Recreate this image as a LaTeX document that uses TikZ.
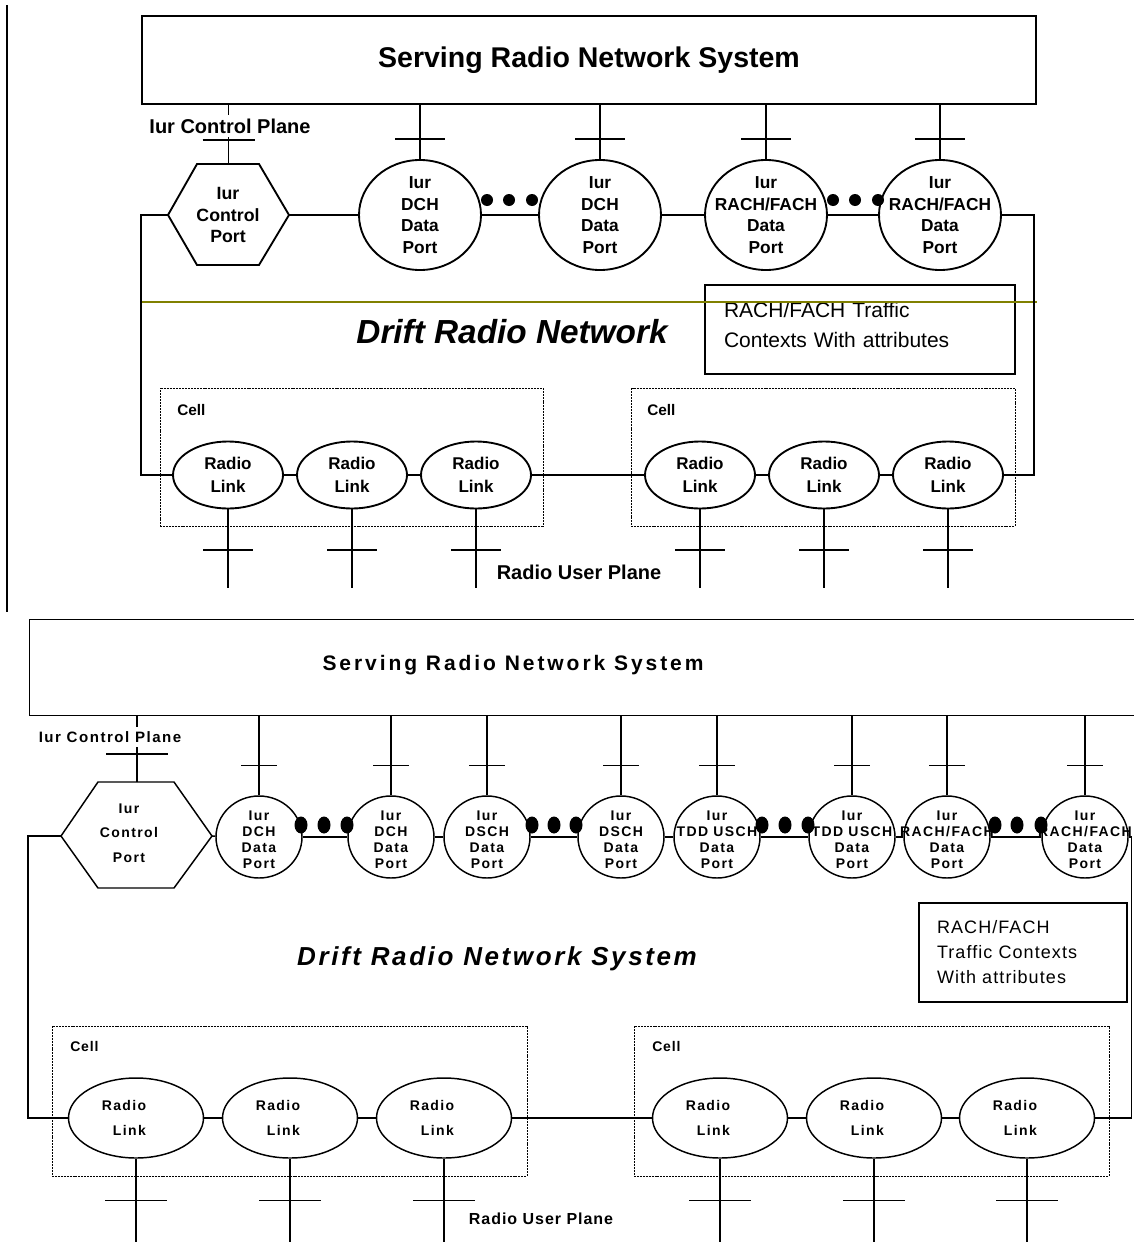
\documentclass[tikz,border=0pt]{standalone}
\usepackage{fontspec}
\setmainfont{Liberation Sans}
\newfontfamily\trackedfont[LetterSpace=10]{Liberation Sans}
\newfontfamily\trackedwide[LetterSpace=14]{Liberation Sans}
\newfontfamily\trackedlight[LetterSpace=6]{Liberation Sans}
\usetikzlibrary{shapes.geometric,calc}
\definecolor{olivegreen}{RGB}{128,128,0}

\tikzset{
  lineT/.style={line width=1.4pt},
  lineB/.style={line width=1.1pt},
  portT/.style={draw, lineT, ellipse, minimum width=91.5pt, minimum height=82.5pt, inner sep=0pt},
  portB/.style={draw, lineB, ellipse, minimum width=64.5pt, minimum height=61.5pt, inner sep=0pt},
  linkT/.style={draw, lineT, ellipse, minimum width=82.5pt, minimum height=50.25pt, inner sep=0pt},
  linkB/.style={draw, lineB, ellipse, minimum width=101.25pt, minimum height=60pt, inner sep=0pt},
  dotT/.style={circle, fill=black, minimum size=9pt, inner sep=0pt},
  dotB/.style={ellipse, fill=black, minimum width=9.75pt, minimum height=12.75pt, inner sep=0pt},
  cellbox/.style={draw, line width=0.7pt, dash pattern=on 1.5pt off 0.7pt, inner sep=0pt},
  portTxtT/.style={align=center, inner sep=0pt, font=\fontsize{13}{16.3}\selectfont\bfseries},
  hexTxtT/.style={align=center, inner sep=0pt, font=\fontsize{13.3}{16.1}\selectfont\bfseries},
  linkTxtT/.style={align=center, inner sep=0pt, font=\fontsize{12.75}{17.3}\selectfont\bfseries},
  portTxtB/.style={align=center, inner sep=0pt, yshift=-2pt, font=\trackedfont\fontsize{10.5}{12.2}\selectfont\bfseries},
  hexTxtB/.style={align=center, inner sep=0pt, font=\trackedfont\fontsize{10.5}{18.4}\selectfont\bfseries},
  linkTxtB/.style={align=center, inner sep=0pt, xshift=-5pt, font=\trackedfont\fontsize{10.5}{18.75}\selectfont\bfseries},
  planeT/.style={fill=white, inner sep=3pt, font=\fontsize{15}{18}\selectfont\bfseries},
  planeB/.style={fill=white, inner sep=3pt, font=\trackedfont\fontsize{11.3}{14}\selectfont\bfseries},
  cellTxtT/.style={anchor=west, inner sep=0pt, font=\fontsize{11.5}{14}\selectfont\bfseries},
  cellTxtB/.style={anchor=west, inner sep=0pt, font=\trackedlight\fontsize{10.5}{13}\selectfont\bfseries},
}

\begin{document}
\begin{tikzpicture}[x=0.75pt,y=-0.75pt]
\useasboundingbox (0,0) rectangle (1133,1242);

% ---------------- upper figure ----------------
\draw[line width=1.5pt] (7,5) -- (7,612);

\node[draw, lineT, minimum width=670.5pt, minimum height=66pt, inner sep=0pt,
      font=\fontsize{21.4}{25}\selectfont\bfseries] (srns) at (589,60) {Serving Radio Network System};

% control port
\coordinate (hxW) at (168,215);
\coordinate (hxE) at (289,215);
\coordinate (hxN) at (228.5,164);
\draw[lineT] (hxW) -- (197,164) -- (259,164) -- (hxE) -- (259,265) -- (197,265) -- cycle;
\node[hexTxtT] (hxtxt) at (228,215) {Iur\\Control\\Port};
\draw[lineT] (srns.south -| hxN) -- (hxN);
\draw[lineT] ($(hxN)+(-26,-24)$) -- ($(hxN)+(26,-24)$);
\node[planeT] (cplane) at (230,126) {Iur Control Plane};

% data ports
\node[portT, label={[portTxtT]center:{Iur\\DCH\\Data\\Port}}] (d1) at (420,215) {};
\node[portT, label={[portTxtT]center:{Iur\\DCH\\Data\\Port}}] (d2) at (600,215) {};
\node[portT, label={[portTxtT]center:{Iur\\RACH/FACH\\Data\\Port}}] (d3) at (766,215) {};
\node[portT, label={[portTxtT]center:{Iur\\RACH/FACH\\Data\\Port}}] (d4) at (940,215) {};
\foreach \n in {d1,d2,d3,d4} {
  \draw[lineT] (srns.south -| \n.north) -- (\n.north);
  \draw[lineT] ($(\n.north)+(-25,-20)$) -- ($(\n.north)+(25,-20)$);
}
\draw[lineT] (hxE) -- (d1);
\draw[lineT] (d1) -- (d2);
\draw[lineT] (d2) -- (d3);
\draw[lineT] (d3) -- (d4);
\foreach \n/\x in {ta/487, tb/509, tc/532, td/833, te/855, tf/878}
  \node[dotT] (\n) at (\x,200) {};

% drift network
\node[font=\fontsize{25}{30}\selectfont\bfseries\itshape, inner sep=0pt] (drnT) at (512,332) {Drift Radio Network};
\node[draw, lineT, align=left, text width=204pt, minimum height=66.75pt, inner xsep=14.25pt, inner ysep=0pt,
      text depth=30pt, font=\fontsize{15.75}{23}\selectfont] (ctxT) at (860,329.5) {RACH/FACH Traffic\\Contexts With attributes};
\draw[olivegreen, line width=1.5pt] (140,302) -- (1037,302);

% cells
\node[cellbox, minimum width=287.25pt, minimum height=103.5pt] (cellTL) at (351.5,457) {};
\node[cellbox, minimum width=288pt, minimum height=103.5pt] (cellTR) at (823,457) {};
\node[cellTxtT] (cellTLt) at (177,410) {Cell};
\node[cellTxtT] (cellTRt) at (647,410) {Cell};

% radio links
\foreach \n/\x in {r1/228, r2/352, r3/476, r4/700, r5/824, r6/948} {
  \node[linkT, label={[linkTxtT]center:{Radio\\Link}}] (\n) at (\x,475) {};
  \draw[lineT] (\n.south) -- ++(0,78.5);
  \draw[lineT] ($(\n.south)+(-25,40.5)$) -- ($(\n.south)+(25,40.5)$);
}
\draw[lineT] (r1) -- (r2);
\draw[lineT] (r2) -- (r3);
\draw[lineT] (r3) -- (r4);
\draw[lineT] (r4) -- (r5);
\draw[lineT] (r5) -- (r6);
\draw[lineT] (hxW) -| ($(r1.west)+(-31,0)$) -- (r1.west);
\draw[lineT] (d4.east) -| ($(r6.east)+(30,0)$) -- (r6.east);
\node[font=\fontsize{15}{18}\selectfont\bfseries, inner sep=0pt] (rupT) at (579,572) {Radio User Plane};

% ---------------- lower figure ----------------
\node[draw, lineB, anchor=north west, minimum width=840.75pt, minimum height=72pt, inner sep=0pt] (srnsB) at (29,619) {};
\node[font=\trackedwide\fontsize{15.75}{19}\selectfont\bfseries, inner sep=0pt] (srnsBt) at (513,665) {Serving Radio Network System};

% control port
\coordinate (hbW) at (61,836);
\coordinate (hbE) at (212,836);
\coordinate (hbN) at (137,782);
\draw[lineB] (hbW) -- (98,782) -- (174,782) -- (hbE) -- (174,888) -- (98,888) -- cycle;
\node[hexTxtB] (hbtxt) at (129,833) {Iur\\Control\\Port};
\draw[lineB] (srnsB.south -| hbN) -- (hbN);
\draw[lineB] ($(hbN)+(-31,-28)$) -- ($(hbN)+(31,-28)$);
\node[planeB] (cplaneB) at (110,737) {Iur Control Plane};

% data ports
\foreach \n/\x/\t in {c1/259/{DCH}, c2/391/{DCH}, c3/487/{DSCH}, c4/621/{DSCH}, c5/717/{TDD USCH}, c6/852/{TDD USCH}, c7/947/{RACH/FACH}, c8/1085/{RACH/FACH}} {
  \node[portB, label={[portTxtB]center:{Iur\\\t\\Data\\Port}}] (\n) at (\x,837) {};
  \draw[lineB] (srnsB.south -| \n.north) -- (\n.north);
  \draw[lineB] ($(\n.north)+(-18,-30)$) -- ($(\n.north)+(18,-30)$);
}
\draw[lineB] (hbE) -- (c1);
\draw[lineB] (c1) -- (c2);
\draw[lineB] (c2) -- (c3);
\draw[lineB] (c3) -- (c4);
\draw[lineB] (c4) -- (c5);
\draw[lineB] (c5) -- (c6);
\draw[lineB] (c6) -- (c7);
\draw[lineB] (c7) -- (c8);
\foreach \n/\x in {ba/301, bb/324, bc/347, bd/532, be/554, bf/576, bg/762, bh/785, bi/808, bj/995, bk/1017, bl/1041}
  \node[dotB] (\n) at (\x,825) {};

% drift network
\node[font=\trackedfont\fontsize{19.5}{24}\selectfont\bfseries\itshape, inner sep=0pt] (drnB) at (497,959) {Drift Radio Network System};
\node[draw, lineB, align=left, text width=129pt, minimum height=74.25pt, inner xsep=13.5pt, inner ysep=0pt,
      font=\trackedlight\fontsize{13.5}{18.75}\selectfont] (ctxB) at (1023,952.5) {RACH/FACH\\Traffic Contexts\\With attributes};

% cells
\node[cellbox, minimum width=356.25pt, minimum height=112.5pt] (cellBL) at (289.5,1101) {};
\node[cellbox, minimum width=356.25pt, minimum height=112.5pt] (cellBR) at (871.5,1101) {};
\node[cellTxtB] (cellBLt) at (70,1046) {Cell};
\node[cellTxtB] (cellBRt) at (652,1046) {Cell};

% radio links
\foreach \n/\x in {l1/136, l2/290, l3/444, l4/720, l5/874, l6/1027} {
  \node[linkB, label={[linkTxtB]center:{Radio\hspace*{8pt}\\Link}}] (\n) at (\x,1118) {};
  \draw[lineB] (\n.south) -- ++(0,95);
  \draw[lineB] ($(\n.south)+(-31,42)$) -- ($(\n.south)+(31,42)$);
}
\draw[lineB] (l1) -- (l2);
\draw[lineB] (l2) -- (l3);
\draw[lineB] (l3) -- (l4);
\draw[lineB] (l4) -- (l5);
\draw[lineB] (l5) -- (l6);
\draw[lineB] (hbW) -| ($(l1.west)+(-40,0)$) -- (l1.west);
\draw[lineB] (c8.east) -| ($(l6.east)+(36,0)$) -- (l6.east);
\node[font=\trackedlight\fontsize{12}{14}\selectfont\bfseries, inner sep=0pt] (rupB) at (541,1219) {Radio User Plane};
\end{tikzpicture}
\end{document}
